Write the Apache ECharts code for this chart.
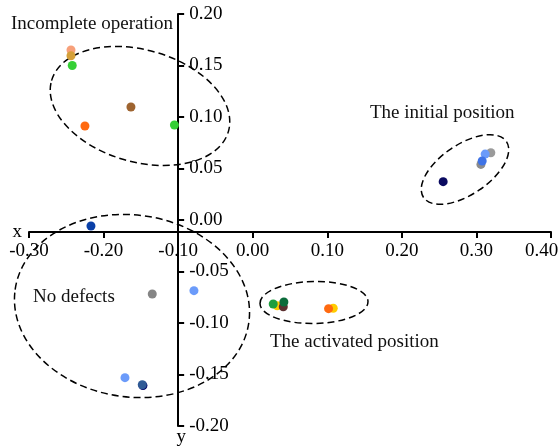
<!DOCTYPE html>
<html><head><meta charset="utf-8">
<script src="https://cdn.jsdelivr.net/npm/echarts@6/dist/echarts.min.js"></script>
<style>html,body{margin:0;padding:0;background:#fff}#c{width:559px;height:448px}</style>
</head><body><div id="c"></div>
<script>
// ---- data ----
const xTickLabels = ['-0.30','-0.20','-0.10','0.00','0.10','0.20','0.30','0.40'];
const yTickLabels = ['-0.20','-0.15','-0.10','-0.05','0.00','0.05','0.10','0.15','0.20'];
const incompleteOperation = [[-0.2437,0.165],[-0.2437,0.1595],[-0.242,0.150],[-0.1633,0.1097],[-0.225,0.0913],[-0.105,0.0922]];
const initialPosition = [[0.3193,0.0653],[0.306,0.054],[0.3117,0.064],[0.3077,0.0573],[0.2554,0.0372]];
const activatedPosition = [[0.0329,-0.0832],[0.0275,-0.0816],[0.041,-0.0842],[0.0418,-0.0796],[0.108,-0.0857],[0.1017,-0.0861]];
const noDefects = [[-0.2169,-0.0058],[-0.1347,-0.0718],[-0.0788,-0.0686],[-0.1713,-0.1531],[-0.1472,-0.1608],[-0.1481,-0.1600]];
const annotations = ['Incomplete operation','The initial position','No defects','The activated position'];

// ---- styles ----
const incompleteColors = ['#F7A07A','#D5A03A','#35CF35','#9E6430','#FF6A10','#35CF35'];
const initialColors = ['#9A9A9A','#8C8C8C','#6B9BFA','#3F73E6','#0A0A60'];
const activatedColors = ['#FFCC00','#1E9E3E','#5C3030','#0B6B3A','#FFCC00','#FF6A10'];
const noDefectColors = ['#0A40A8','#858585','#6B9BFA','#6B9BFA','#000066','#2F5A95'];

const XMIN=-0.3, XMAX=0.4, XINT=0.1, YMIN=-0.2, YMAX=0.2, YINT=0.05;
const Y_CROSS_X=-0.10, X_CROSS_Y=-0.0117;
const GL=29, GR=8, GT=14, GB=22, W=559, H=448;
const gw=W-GL-GR, gh=H-GT-GB;
const FONT='"Liberation Serif", "Times New Roman", serif';

function items(arr, cols){ return arr.map((p,i)=>({value:p, itemStyle:{color:cols[i]}})); }
function ser(name, arr, cols){
  return {type:'scatter', name, symbolSize:9, data:items(arr,cols), itemStyle:{opacity:1}};
}

const chart = echarts.init(document.getElementById('c'), null, {renderer:'canvas'});
const axisText = {color:'#000', fontSize:19, fontFamily:FONT};
chart.setOption({
  animation:false,
  grid:{left:GL, right:GR, top:GT, bottom:GB, containLabel:false, outerBoundsMode:'none'},
  xAxis:{
    type:'value', min:XMIN, max:XMAX, interval:XINT, position:'bottom',
    offset: -(X_CROSS_Y-YMIN)/(YMAX-YMIN)*gh,
    name:'x', nameLocation:'start', nameGap:7, nameMoveOverlap:false,
    nameTextStyle:{...axisText, padding:[3,0,0,0]},
    axisLine:{show:true, onZero:false, lineStyle:{color:'#000', width:2}},
    axisTick:{show:true, length:6, lineStyle:{color:'#000', width:2}},
    axisLabel:{...axisText, margin:9, hideOverlap:false,
      formatter:(v)=>{const i=Math.round((v-XMIN)/XINT); return i===xTickLabels.length-1 ? '{m|'+xTickLabels[i]+'}' : xTickLabels[i];},
      rich:{m:{...axisText, padding:[0,19,0,0]}}},
    splitLine:{show:false}
  },
  yAxis:{
    type:'value', min:YMIN, max:YMAX, interval:YINT, position:'left',
    offset: -(Y_CROSS_X-XMIN)/(XMAX-XMIN)*gw,
    name:'y', nameLocation:'start', nameGap:2, nameMoveOverlap:false,
    nameTextStyle:{...axisText, padding:[0,0,0,6]},
    axisLine:{show:true, onZero:false, lineStyle:{color:'#000', width:2}},
    axisTick:{show:true, inside:true, length:6, lineStyle:{color:'#000', width:2}},
    axisLabel:{...axisText, inside:true, margin:11, formatter:(v)=>yTickLabels[Math.round((v-YMIN)/YINT)]},
    splitLine:{show:false}
  },
  series:[
    ser('Incomplete operation', incompleteOperation, incompleteColors),
    ser('The initial position', initialPosition, initialColors),
    ser('The activated position', activatedPosition, activatedColors),
    ser('No defects', noDefects, noDefectColors)
  ]
});

const dash = {fill:'none', stroke:'#000', lineWidth:1.5, lineDash:[7,4]};
function ell(cx,cy,rx,ry,deg){
  return {type:'ellipse', x:cx, y:cy, rotation:deg*Math.PI/180, shape:{cx:0,cy:0,rx,ry}, style:dash, silent:true, z:1};
}
function txt(s,x,y){
  return {type:'text', x, y, style:{text:s, fontSize:19, fontFamily:FONT, fill:'#111', align:'left', verticalAlign:'middle'}, silent:true, z:5};
}
chart.setOption({graphic:[
  ell(140,106,92,56,-16),
  ell(465,169.5,50,25,34),
  ell(132,306,118,91,-8),
  ell(314,302.5,54,21,1),
  txt(annotations[0],11,24),
  txt(annotations[1],370,113.5),
  txt(annotations[2],33,297.5),
  txt(annotations[3],270,342.5)
]});
</script></body></html>
